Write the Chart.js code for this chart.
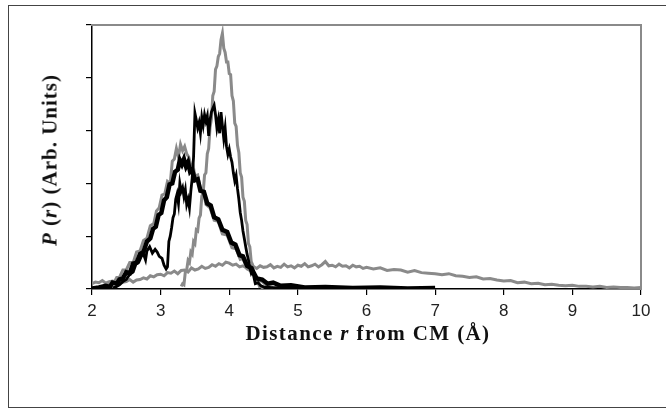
<!DOCTYPE html>
<html lang="en">

<head>
    <meta charset="UTF-8">
    <title>P(r) distribution</title>
    <script src="https://cdn.jsdelivr.net/npm/chart.js"></script>
    <style>
        html, body { margin: 0; padding: 0; background: #fff; overflow: hidden; }
        #frame { position: relative; width: 666px; height: 411px; }
        #outer {
            position: absolute; left: 8px; top: 5px; width: 680px; height: 401px;
            border: 1.5px solid #444;
        }
        #graf { position: absolute; left: 0; top: 0; }
        .eixo {
            position: absolute; font-family: "Liberation Serif", "DejaVu Serif", serif;
            font-weight: bold; font-size: 21px; color: #111; white-space: nowrap;
        }
        #tituloX { left: 368px; top: 333px; letter-spacing: 1.4px; transform: translate(-50%, -50%); }
        #tituloY { left: 50px; top: 160px; letter-spacing: 1px; transform: translate(-50%, -50%) rotate(-90deg); }
    </style>
</head>

<body>
    <div id="frame">
        <div id="outer"></div>
        <canvas id="graf" width="666" height="411"></canvas>
        <div class="eixo" id="tituloX">Distance <i>r</i> from CM (Å)</div>
        <div class="eixo" id="tituloY"><i>P</i> (<i>r</i>) (Arb. Units)</div>
    </div>

<script>
    // eixo x: distancia r (Å) de 2 a 10
    var xTicks = [2, 3, 4, 5, 6, 7, 8, 9, 10];
    var yTicks = [0, 1, 2, 3, 4, 5];

    // curva cinza estreita (pico em ~3.9)
    var cinzaEstreita = [
        [3.30, 0.05], [3.32, 0.10], [3.34, 0.08], [3.36, 0.32], [3.38, 0.36], [3.40, 0.54], [3.42, 0.50],
        [3.44, 0.70], [3.46, 0.66], [3.48, 0.90], [3.50, 0.86], [3.52, 1.12], [3.54, 1.10], [3.56, 1.34],
        [3.58, 1.40], [3.60, 1.76], [3.62, 1.82], [3.64, 2.16], [3.66, 2.20], [3.68, 2.56], [3.70, 2.66],
        [3.72, 3.06], [3.74, 3.22], [3.76, 3.66], [3.78, 3.74], [3.80, 4.16], [3.82, 4.22], [3.84, 4.40],
        [3.86, 4.46], [3.88, 4.72], [3.90, 4.84], [3.92, 4.56], [3.94, 4.48], [3.96, 4.30], [3.98, 4.30],
        [4.00, 4.08], [4.02, 4.06], [4.04, 3.66], [4.06, 3.56], [4.08, 3.14], [4.10, 3.08], [4.12, 2.72],
        [4.14, 2.58], [4.16, 2.20], [4.18, 2.12], [4.20, 1.74], [4.22, 1.66], [4.24, 1.30], [4.26, 1.22],
        [4.28, 0.86], [4.30, 0.80], [4.32, 0.52], [4.34, 0.46], [4.36, 0.26], [4.38, 0.24], [4.40, 0.12],
        [4.42, 0.12], [4.44, 0.05], [4.46, 0.06], [4.48, 0.02], [4.50, 0.02]
    ];

    // curva preta serrilhada (pico em ~3.8)
    var pretaFina = [
        [2.30, 0.02], [2.36, 0.05], [2.40, 0.08], [2.45, 0.14], [2.50, 0.18], [2.55, 0.28], [2.60, 0.32],
        [2.64, 0.47], [2.68, 0.50], [2.72, 0.62], [2.75, 0.66], [2.78, 0.55], [2.80, 0.72], [2.84, 0.80],
        [2.88, 0.68], [2.92, 0.75], [2.95, 0.70], [2.98, 0.62], [3.02, 0.58], [3.05, 0.45], [3.08, 0.38],
        [3.10, 0.42], [3.12, 0.90], [3.14, 1.00], [3.16, 1.16], [3.18, 1.35], [3.20, 1.42], [3.22, 1.70],
        [3.24, 1.80], [3.26, 1.62], [3.28, 2.00], [3.30, 1.85], [3.32, 1.92], [3.34, 1.75], [3.36, 1.88],
        [3.38, 1.60], [3.40, 1.70], [3.42, 1.54], [3.44, 1.85], [3.46, 2.10], [3.48, 2.50], [3.50, 3.33],
        [3.52, 3.20], [3.54, 3.05], [3.56, 3.15], [3.58, 2.95], [3.60, 3.25], [3.62, 3.10], [3.64, 3.30],
        [3.66, 3.18], [3.68, 3.28], [3.70, 2.90], [3.72, 3.20], [3.74, 3.35], [3.76, 3.42], [3.78, 3.48],
        [3.80, 3.30], [3.82, 3.05], [3.84, 3.20], [3.86, 2.95], [3.88, 3.35], [3.90, 3.10], [3.92, 2.85],
        [3.94, 3.05], [3.96, 2.70], [3.98, 2.55], [4.00, 2.65], [4.02, 2.50], [4.04, 2.40], [4.06, 2.20],
        [4.08, 2.05], [4.10, 2.15], [4.12, 1.90], [4.14, 1.70], [4.16, 1.45], [4.18, 1.30], [4.20, 1.10],
        [4.22, 0.95], [4.24, 0.80], [4.26, 0.66], [4.28, 0.55], [4.30, 0.40], [4.32, 0.30], [4.34, 0.35],
        [4.36, 0.22], [4.38, 0.10], [4.42, 0.12], [4.46, 0.06], [4.50, 0.04], [4.60, 0.03], [4.80, 0.02],
        [5.00, 0.02]
    ];

    // curva cinza larga (pico em ~3.3)
    var cinzaLarga = [
        [2.20, 0.05], [2.26, 0.10], [2.32, 0.12], [2.36, 0.22], [2.40, 0.22], [2.45, 0.36], [2.50, 0.36],
        [2.55, 0.50], [2.60, 0.50], [2.65, 0.70], [2.70, 0.72], [2.75, 0.92], [2.80, 0.96], [2.85, 1.20],
        [2.90, 1.24], [2.94, 1.48], [2.98, 1.54], [3.02, 1.78], [3.06, 1.80], [3.10, 2.04], [3.14, 2.00],
        [3.17, 2.42], [3.20, 2.46], [3.23, 2.66], [3.26, 2.50], [3.29, 2.74], [3.32, 2.62], [3.35, 2.70],
        [3.38, 2.56], [3.41, 2.50], [3.44, 2.34], [3.47, 2.36], [3.50, 2.14], [3.54, 2.16], [3.58, 1.90],
        [3.62, 1.88], [3.66, 1.60], [3.72, 1.54], [3.78, 1.30], [3.84, 1.28], [3.90, 1.04], [3.97, 1.02],
        [4.04, 0.78], [4.10, 0.76], [4.16, 0.56], [4.20, 0.58], [4.26, 0.38], [4.32, 0.34], [4.40, 0.18],
        [4.48, 0.14], [4.56, 0.05], [4.64, 0.04]
    ];

    // curva preta grossa (pico em ~3.35)
    var pretaGrossa = [
        [2.00, 0.01], [2.10, 0.03], [2.20, 0.06], [2.26, 0.04], [2.30, 0.12], [2.36, 0.10], [2.40, 0.18],
        [2.45, 0.20], [2.50, 0.32], [2.55, 0.30], [2.60, 0.48], [2.65, 0.50], [2.70, 0.66], [2.75, 0.70],
        [2.80, 0.90], [2.85, 0.96], [2.89, 1.14], [2.93, 1.18], [2.97, 1.40], [3.01, 1.44], [3.05, 1.68],
        [3.09, 1.74], [3.13, 1.98], [3.17, 2.00], [3.21, 2.22], [3.25, 2.26], [3.28, 2.44], [3.31, 2.36],
        [3.34, 2.46], [3.37, 2.32], [3.40, 2.40], [3.43, 2.22], [3.46, 2.26], [3.50, 2.06], [3.54, 2.08],
        [3.58, 1.86], [3.63, 1.84], [3.68, 1.62], [3.73, 1.58], [3.78, 1.36], [3.84, 1.32], [3.90, 1.12],
        [3.97, 1.08], [4.03, 0.88], [4.09, 0.84], [4.15, 0.64], [4.20, 0.62], [4.26, 0.44], [4.32, 0.40],
        [4.40, 0.20], [4.48, 0.18], [4.56, 0.10], [4.64, 0.12], [4.75, 0.06], [4.90, 0.07], [5.10, 0.03],
        [5.40, 0.04], [5.80, 0.02], [6.20, 0.03], [6.60, 0.01], [7.00, 0.02]
    ];

    // curva cinza achatada que vai ate 10
    var cinzaPlana = [
        [2.00, 0.10], [2.05, 0.13], [2.10, 0.12], [2.15, 0.16], [2.20, 0.11], [2.25, 0.14], [2.30, 0.15],
        [2.35, 0.12], [2.40, 0.17], [2.45, 0.13], [2.50, 0.14], [2.55, 0.18], [2.60, 0.13], [2.65, 0.17],
        [2.70, 0.18], [2.75, 0.21], [2.80, 0.19], [2.85, 0.25], [2.90, 0.23], [2.95, 0.27], [3.00, 0.28],
        [3.05, 0.25], [3.10, 0.31], [3.15, 0.30], [3.20, 0.34], [3.25, 0.29], [3.30, 0.35], [3.35, 0.36],
        [3.40, 0.32], [3.45, 0.40], [3.50, 0.36], [3.55, 0.38], [3.60, 0.43], [3.65, 0.39], [3.70, 0.41],
        [3.75, 0.46], [3.80, 0.43], [3.85, 0.48], [3.90, 0.45], [3.95, 0.51], [4.00, 0.49], [4.05, 0.45],
        [4.10, 0.47], [4.15, 0.42], [4.20, 0.44], [4.25, 0.40], [4.30, 0.45], [4.35, 0.43], [4.40, 0.39],
        [4.45, 0.44], [4.50, 0.41], [4.55, 0.42], [4.60, 0.46], [4.65, 0.40], [4.70, 0.43], [4.75, 0.41],
        [4.80, 0.47], [4.85, 0.42], [4.90, 0.44], [4.95, 0.40], [5.00, 0.45], [5.05, 0.43], [5.10, 0.48],
        [5.15, 0.42], [5.20, 0.44], [5.25, 0.47], [5.30, 0.42], [5.35, 0.46], [5.40, 0.52], [5.45, 0.44],
        [5.50, 0.45], [5.55, 0.42], [5.60, 0.47], [5.65, 0.43], [5.70, 0.44], [5.75, 0.40], [5.80, 0.45],
        [5.85, 0.42], [5.90, 0.43], [5.95, 0.39], [6.00, 0.41], [6.10, 0.38], [6.20, 0.40], [6.30, 0.35],
        [6.40, 0.37], [6.50, 0.36], [6.60, 0.32], [6.70, 0.35], [6.80, 0.31], [6.90, 0.30], [7.00, 0.29],
        [7.10, 0.27], [7.20, 0.29], [7.30, 0.25], [7.40, 0.24], [7.50, 0.22], [7.60, 0.23], [7.70, 0.19],
        [7.80, 0.20], [7.90, 0.17], [8.00, 0.15], [8.10, 0.16], [8.20, 0.12], [8.30, 0.13], [8.40, 0.10],
        [8.50, 0.11], [8.60, 0.08], [8.70, 0.09], [8.80, 0.07], [8.90, 0.06], [9.00, 0.07], [9.10, 0.05],
        [9.20, 0.05], [9.30, 0.04], [9.40, 0.05], [9.50, 0.03], [9.60, 0.04], [9.70, 0.03], [9.80, 0.03],
        [9.90, 0.02], [10.00, 0.03]
    ];

    var cinza = '#8a8a8a';
    var preto = '#000000';

    function pontos(lista) {
        return lista.map(function (p) { return { x: p[0], y: p[1] }; });
    }

    function serie(lista, cor, largura, ordem) {
        return {
            data: pontos(lista),
            borderColor: cor,
            borderWidth: largura,
            pointRadius: 0,
            showLine: true,
            tension: 0,
            order: ordem
        };
    }

    var ctx = document.getElementById('graf');

    new Chart(ctx, {
        type: 'scatter',
        data: {
            datasets: [
                serie(pretaGrossa, preto, 4.5, 1),
                serie(pretaFina, preto, 2.8, 2),
                serie(cinzaLarga, cinza, 3, 3),
                serie(cinzaEstreita, cinza, 3, 4),
                serie(cinzaPlana, cinza, 3, 5)
            ]
        },
        options: {
            responsive: false,
            animation: false,
            events: [],
            layout: { padding: 0 },
            plugins: {
                legend: { display: false },
                tooltip: { enabled: false }
            },
            scales: {
                x: {
                    type: 'linear',
                    position: 'bottom',
                    min: 2,
                    max: 10,
                    afterBuildTicks: function (s) { s.ticks = xTicks.map(function (v) { return { value: v }; }); },
                    afterFit: function (s) { s.height = 411 - 289; },
                    ticks: {
                        color: '#222',
                        padding: 6,
                        font: { family: '"Liberation Sans", Arial, sans-serif', size: 17 }
                    },
                    grid: { drawOnChartArea: false, tickLength: 6, color: '#000', lineWidth: 1.2 },
                    border: { color: '#000', width: 1.5 }
                },
                y: {
                    position: 'left',
                    min: 0,
                    max: 5,
                    afterBuildTicks: function (s) { s.ticks = yTicks.map(function (v) { return { value: v }; }); },
                    afterFit: function (s) { s.width = 92; },
                    ticks: { display: false },
                    grid: { drawOnChartArea: false, tickLength: 6, color: '#000', lineWidth: 1.2 },
                    border: { color: '#000', width: 1.5 }
                },
                xTopo: {
                    type: 'linear',
                    position: 'top',
                    min: 2,
                    max: 10,
                    afterFit: function (s) { s.height = 25; },
                    ticks: { display: false },
                    grid: { drawOnChartArea: false, drawTicks: false },
                    border: { color: cinza, width: 2 }
                },
                yDireita: {
                    position: 'right',
                    min: 0,
                    max: 5,
                    afterFit: function (s) { s.width = 666 - 641; },
                    ticks: { display: false },
                    grid: { drawOnChartArea: false, drawTicks: false },
                    border: { color: cinza, width: 2 }
                }
            }
        }
    });
</script>
</body>

</html>
